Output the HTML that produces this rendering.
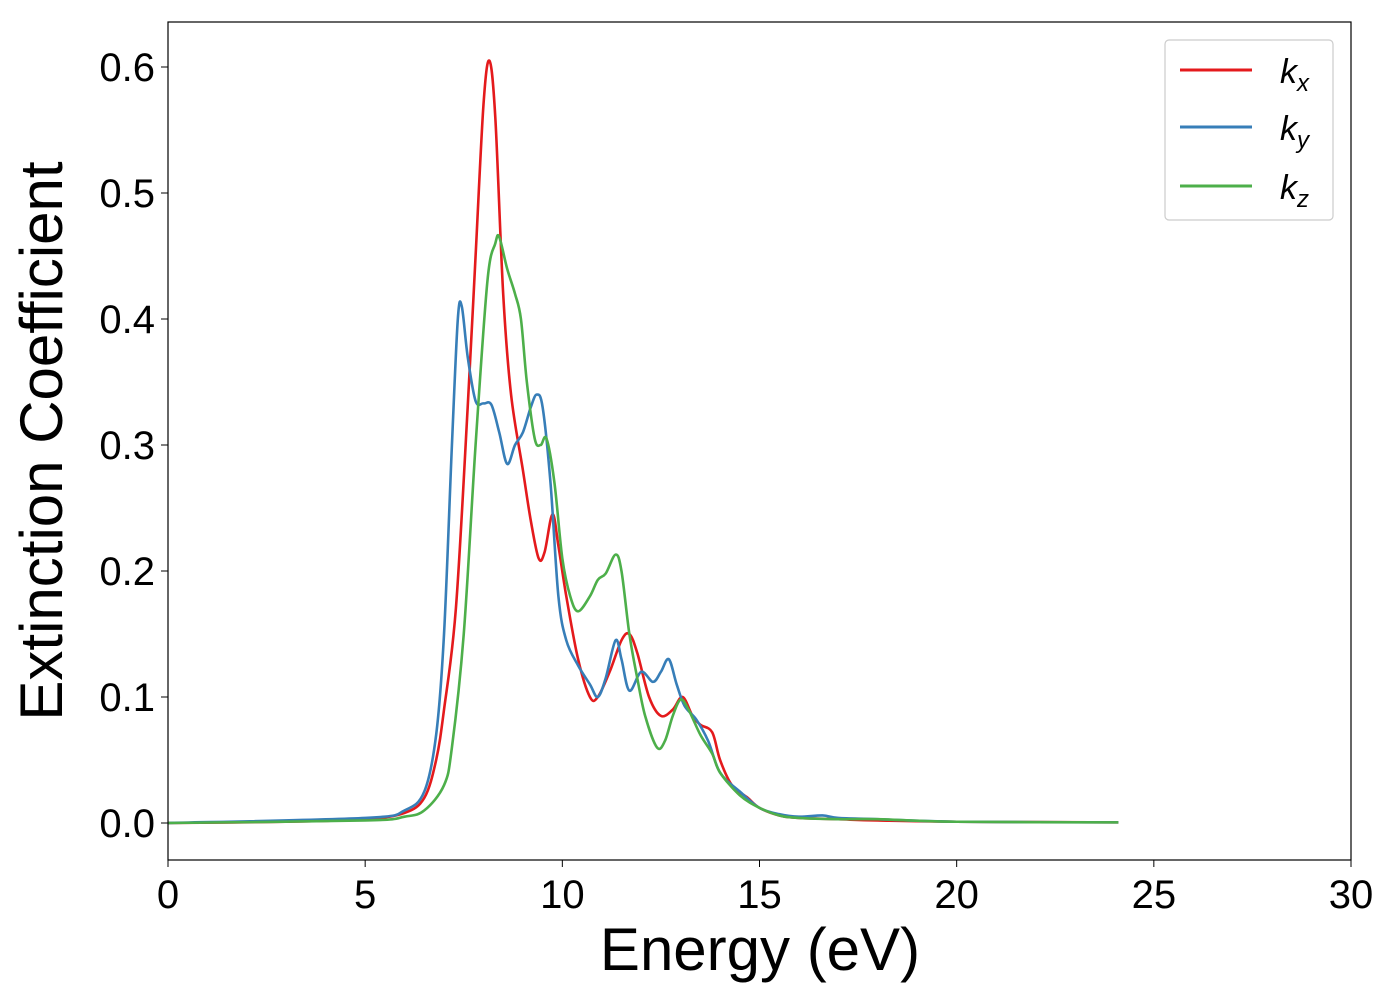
<!DOCTYPE html>
<html><head><meta charset="utf-8"><style>
body{margin:0;background:#fff;font-family:"Liberation Sans","DejaVu Sans",sans-serif}
</style></head><body>
<svg id="chart" width="1400" height="1000" xmlns="http://www.w3.org/2000/svg">
<rect x="0" y="0" width="1400" height="1000" fill="#fff"/>
<g id="series"></g>
<rect x="168" y="22" width="1183" height="838" fill="none" stroke="#000" stroke-width="1.2"/>
<g id="ticks"></g>
<text x="760" y="970" font-size="60" text-anchor="middle">Energy (eV)</text>
<text transform="translate(62,441) rotate(-90)" font-size="60" text-anchor="middle">Extinction Coefficient</text>
<g>
<rect x="1165" y="40" width="168" height="180" rx="4" fill="#fff" fill-opacity="0.8" stroke="#ccc" stroke-width="1.2"/>
<g><line x1="1180" y1="70" x2="1252" y2="70" stroke="#e41a1c" stroke-width="3"/><text x="1280" y="83" font-size="34" font-style="italic">k<tspan font-size="24" dy="8">x</tspan></text></g>
<g><line x1="1180" y1="127" x2="1252" y2="127" stroke="#377eb8" stroke-width="3"/><text x="1280" y="140" font-size="34" font-style="italic">k<tspan font-size="24" dy="8">y</tspan></text></g>
<g><line x1="1180" y1="186" x2="1252" y2="186" stroke="#4daf4a" stroke-width="3"/><text x="1280" y="199" font-size="34" font-style="italic">k<tspan font-size="24" dy="8">z</tspan></text></g>
</g>
</svg>
<script>
const xTicks=[0,5,10,15,20,25,30];
const yTicks=[0.0,0.1,0.2,0.3,0.4,0.5,0.6];
const kxE=[0,3,5,6,6.5,6.8,7,7.3,7.6,7.8,8.0,8.15,8.3,8.5,8.7,9.0,9.2,9.4,9.55,9.75,9.9,10.1,10.4,10.7,10.9,11.2,11.5,11.7,11.9,12.2,12.5,12.8,13.05,13.3,13.5,13.8,14.0,14.3,14.7,15,15.5,16,17,18,20,24.1];
const kxV=[0,0.001,0.003,0.008,0.02,0.05,0.09,0.17,0.33,0.45,0.57,0.605,0.56,0.42,0.34,0.28,0.24,0.21,0.215,0.245,0.22,0.18,0.13,0.10,0.10,0.12,0.145,0.15,0.135,0.10,0.085,0.09,0.10,0.085,0.078,0.072,0.05,0.03,0.02,0.012,0.006,0.004,0.003,0.002,0.001,0.0005];
const kyE=[0,5,6,6.5,6.8,7.0,7.2,7.35,7.45,7.6,7.8,8.0,8.2,8.4,8.6,8.8,9.0,9.2,9.35,9.5,9.7,9.9,10.1,10.4,10.7,10.9,11.1,11.35,11.5,11.7,12.0,12.3,12.5,12.7,12.9,13.1,13.4,13.7,14.0,14.5,15,15.5,16,16.6,17,18,20,24.1];
const kyV=[0,0.004,0.01,0.025,0.07,0.15,0.30,0.40,0.41,0.37,0.335,0.333,0.332,0.31,0.285,0.30,0.31,0.33,0.34,0.33,0.27,0.18,0.145,0.125,0.11,0.10,0.115,0.145,0.13,0.105,0.12,0.112,0.12,0.13,0.11,0.093,0.082,0.065,0.04,0.025,0.012,0.007,0.005,0.006,0.004,0.003,0.001,0.0005];
const kzE=[0,5,6,6.5,7.0,7.2,7.5,7.8,8.1,8.3,8.4,8.6,8.8,8.95,9.1,9.3,9.45,9.6,9.8,10.0,10.2,10.4,10.7,10.9,11.1,11.35,11.5,11.7,11.9,12.1,12.4,12.6,12.8,13.0,13.2,13.5,13.8,14.0,14.5,15,15.5,16,17,18,20,24.1];
const kzV=[0,0.002,0.005,0.01,0.03,0.06,0.15,0.30,0.43,0.46,0.465,0.44,0.42,0.40,0.35,0.305,0.30,0.305,0.27,0.21,0.18,0.168,0.18,0.193,0.198,0.213,0.20,0.15,0.115,0.085,0.06,0.065,0.085,0.098,0.09,0.07,0.055,0.04,0.022,0.012,0.006,0.004,0.003,0.003,0.001,0.0005];
const NS="http://www.w3.org/2000/svg";
const X0=168,X1=1351,Y0v=823,PX_PER=1260;
function sx(v){return X0+(v/30)*(X1-X0);}
function sy(v){return Y0v-v*PX_PER;}
function pathFor(E,V){
  const p=E.map((e,i)=>[sx(e),sy(V[i])]);
  let d="M"+p[0][0]+","+p[0][1];
  for(let i=0;i<p.length-1;i++){
    const a=p[Math.max(0,i-1)],b=p[i],c=p[i+1],n=p[Math.min(p.length-1,i+2)];
    const t=6;
    const c1=[b[0]+(c[0]-a[0])/t,b[1]+(c[1]-a[1])/t];
    const c2=[c[0]-(n[0]-b[0])/t,c[1]-(n[1]-b[1])/t];
    d+=" C"+c1[0].toFixed(2)+","+c1[1].toFixed(2)+" "+c2[0].toFixed(2)+","+c2[1].toFixed(2)+" "+c[0].toFixed(2)+","+c[1].toFixed(2);
  }
  return d;
}
const g=document.getElementById("series");
const ser=[["kx",kxE,kxV,"#e41a1c"],["ky",kyE,kyV,"#377eb8"],["kz",kzE,kzV,"#4daf4a"]];
ser.forEach(s=>{
  const el=document.createElementNS(NS,"path");
  el.setAttribute("d",pathFor(s[1],s[2]));
  el.setAttribute("fill","none");el.setAttribute("stroke",s[3]);el.setAttribute("stroke-width","2.6");
  
  
  g.appendChild(el);
});
const tg=document.getElementById("ticks");
xTicks.forEach(v=>{
  const l=document.createElementNS(NS,"line");
  l.setAttribute("x1",sx(v));l.setAttribute("x2",sx(v));l.setAttribute("y1",860);l.setAttribute("y2",867);l.setAttribute("stroke","#000");
  
  
  tg.appendChild(l);
  const t=document.createElementNS(NS,"text");
  t.setAttribute("x",sx(v));t.setAttribute("y",908);t.setAttribute("font-size","40");t.setAttribute("text-anchor","middle");
  t.textContent=v;
  
  
  tg.appendChild(t);
});
yTicks.forEach(v=>{
  const l=document.createElementNS(NS,"line");
  l.setAttribute("x1",161);l.setAttribute("x2",168);l.setAttribute("y1",sy(v));l.setAttribute("y2",sy(v));l.setAttribute("stroke","#000");
  
  
  tg.appendChild(l);
  const t=document.createElementNS(NS,"text");
  t.setAttribute("x",155);t.setAttribute("y",sy(v)+14);t.setAttribute("font-size","40");t.setAttribute("text-anchor","end");
  t.textContent=v.toFixed(1);
  
  
  tg.appendChild(t);
});
</script>
</body></html>
